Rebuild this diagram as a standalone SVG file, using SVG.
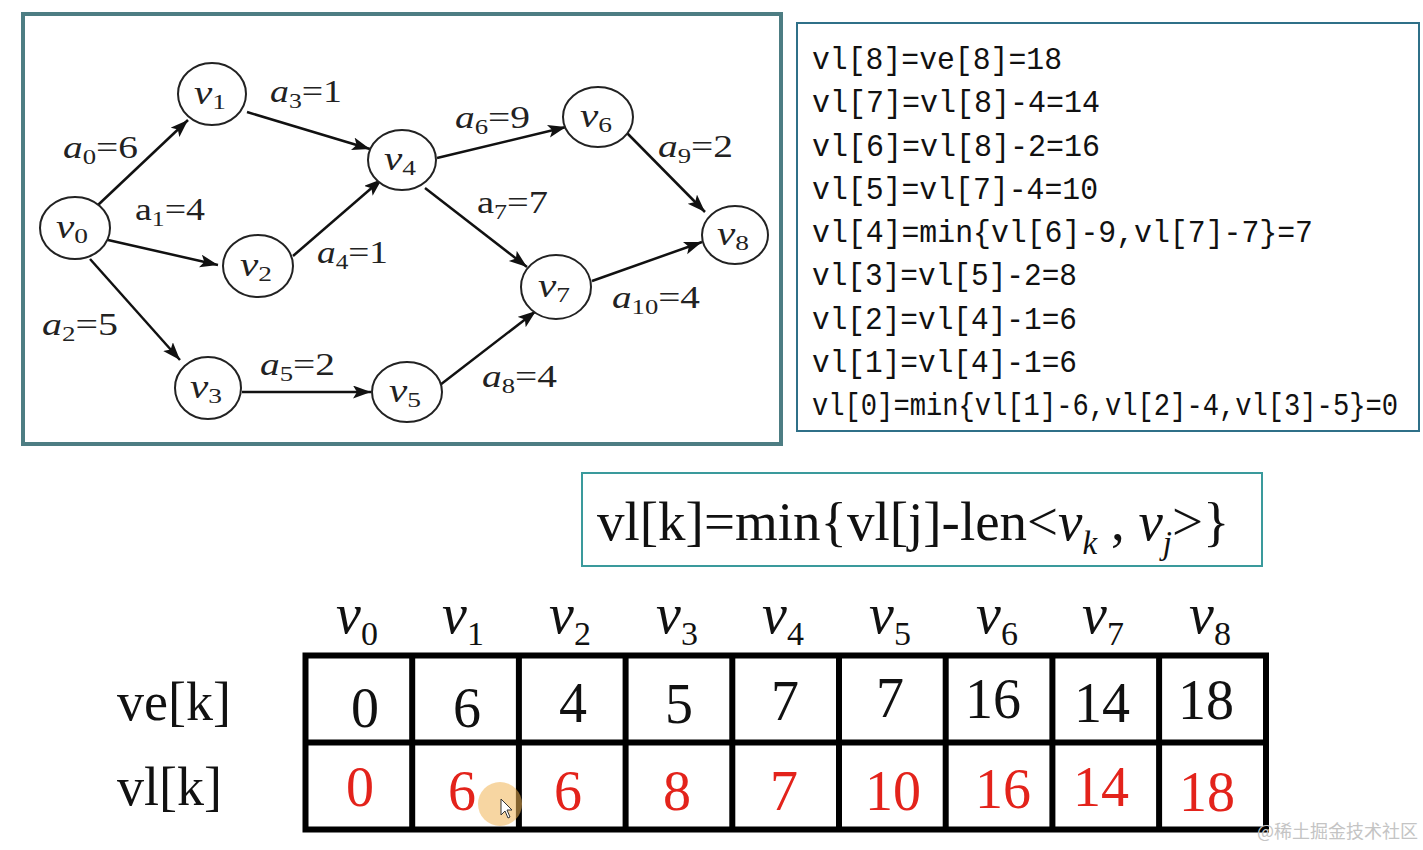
<svg xmlns="http://www.w3.org/2000/svg" width="1423" height="850" viewBox="0 0 1423 850">
<defs>
<style>
.node ellipse{fill:#fff;stroke:#222;stroke-width:2}
.nl{font-family:"Liberation Serif",serif;font-size:33px;fill:#222}
.el{font-family:"Liberation Serif",serif;font-size:31px;fill:#222}
.it{font-style:italic}
.edge{stroke:#111;stroke-width:2.5;fill:none;marker-end:url(#ah)}
.mono{font-family:"Liberation Mono",monospace;font-size:32px;fill:#111}
.ser{font-family:"Liberation Serif",serif;fill:#111}
.grid{stroke:#000;stroke-width:6;fill:none}
.red{fill:#e3231b}
</style>
<marker id="ah" markerUnits="userSpaceOnUse" markerWidth="20" markerHeight="14" refX="18" refY="6.5" orient="auto">
<path d="M0,0 L18,6.5 L0,13 L4,6.5 z" fill="#111"/>
</marker>
</defs>
<rect width="1423" height="850" fill="#fff"/>

<!-- left graph panel -->
<rect x="23" y="14" width="758" height="430" fill="#fff" stroke="#4d7d83" stroke-width="4"/>

<g id="connectors">
<line class="edge" x1="98" y1="205" x2="188" y2="120"/>
<line class="edge" x1="108" y1="240" x2="218" y2="265"/>
<line class="edge" x1="90" y1="259" x2="180" y2="360"/>
<line class="edge" x1="247" y1="112" x2="370" y2="149"/>
<line class="edge" x1="293" y1="256" x2="382" y2="179"/>
<line class="edge" x1="242" y1="392" x2="371" y2="392"/>
<line class="edge" x1="437" y1="158" x2="566" y2="127"/>
<line class="edge" x1="425" y1="188" x2="527" y2="267"/>
<line class="edge" x1="440" y1="385" x2="536" y2="311"/>
<line class="edge" x1="627" y1="133" x2="705" y2="212"/>
<line class="edge" x1="592" y1="281" x2="702" y2="242"/>
</g>

<g id="edge-labels" class="el">
<text x="63" y="158" textLength="75" lengthAdjust="spacingAndGlyphs"><tspan class="it">a</tspan><tspan font-size="21" dy="6">0</tspan><tspan dy="-6">=6</tspan></text>
<text x="135" y="220" textLength="70" lengthAdjust="spacingAndGlyphs"><tspan>a</tspan><tspan font-size="21" dy="6">1</tspan><tspan dy="-6">=4</tspan></text>
<text x="42" y="335" textLength="76" lengthAdjust="spacingAndGlyphs"><tspan class="it">a</tspan><tspan font-size="21" dy="6">2</tspan><tspan dy="-6">=5</tspan></text>
<text x="270" y="102" textLength="72" lengthAdjust="spacingAndGlyphs"><tspan class="it">a</tspan><tspan font-size="21" dy="6">3</tspan><tspan dy="-6">=1</tspan></text>
<text x="317" y="263" textLength="71" lengthAdjust="spacingAndGlyphs"><tspan class="it">a</tspan><tspan font-size="21" dy="6">4</tspan><tspan dy="-6">=1</tspan></text>
<text x="260" y="375" textLength="75" lengthAdjust="spacingAndGlyphs"><tspan class="it">a</tspan><tspan font-size="21" dy="6">5</tspan><tspan dy="-6">=2</tspan></text>
<text x="455" y="128" textLength="75" lengthAdjust="spacingAndGlyphs"><tspan class="it">a</tspan><tspan font-size="21" dy="6">6</tspan><tspan dy="-6">=9</tspan></text>
<text x="477" y="213" textLength="71" lengthAdjust="spacingAndGlyphs"><tspan>a</tspan><tspan font-size="21" dy="6">7</tspan><tspan dy="-6">=7</tspan></text>
<text x="482" y="387" textLength="75" lengthAdjust="spacingAndGlyphs"><tspan class="it">a</tspan><tspan font-size="21" dy="6">8</tspan><tspan dy="-6">=4</tspan></text>
<text x="658" y="157" textLength="75" lengthAdjust="spacingAndGlyphs"><tspan class="it">a</tspan><tspan font-size="21" dy="6">9</tspan><tspan dy="-6">=2</tspan></text>
<text x="612" y="308" textLength="88" lengthAdjust="spacingAndGlyphs"><tspan class="it">a</tspan><tspan font-size="21" dy="6">10</tspan><tspan dy="-6">=4</tspan></text>
</g>

<g id="v0" class="node"><ellipse cx="75" cy="228" rx="35" ry="31"/><text class="nl" x="72" y="238" text-anchor="middle" textLength="32" lengthAdjust="spacingAndGlyphs"><tspan class="it">v</tspan><tspan font-size="22" dy="5">0</tspan></text></g>
<g id="v1" class="node"><ellipse cx="212" cy="94" rx="34" ry="31"/><text class="nl" x="210" y="104" text-anchor="middle" textLength="32" lengthAdjust="spacingAndGlyphs"><tspan class="it">v</tspan><tspan font-size="22" dy="5">1</tspan></text></g>
<g id="v2" class="node"><ellipse cx="258" cy="266" rx="35" ry="31"/><text class="nl" x="256" y="276" text-anchor="middle" textLength="32" lengthAdjust="spacingAndGlyphs"><tspan class="it">v</tspan><tspan font-size="22" dy="5">2</tspan></text></g>
<g id="v3" class="node"><ellipse cx="208" cy="388" rx="33" ry="31"/><text class="nl" x="206" y="398" text-anchor="middle" textLength="32" lengthAdjust="spacingAndGlyphs"><tspan class="it">v</tspan><tspan font-size="22" dy="5">3</tspan></text></g>
<g id="v4" class="node"><ellipse cx="402" cy="160" rx="34" ry="30"/><text class="nl" x="400" y="170" text-anchor="middle" textLength="32" lengthAdjust="spacingAndGlyphs"><tspan class="it">v</tspan><tspan font-size="22" dy="5">4</tspan></text></g>
<g id="v5" class="node"><ellipse cx="407" cy="392" rx="35" ry="30"/><text class="nl" x="405" y="402" text-anchor="middle" textLength="32" lengthAdjust="spacingAndGlyphs"><tspan class="it">v</tspan><tspan font-size="22" dy="5">5</tspan></text></g>
<g id="v6" class="node"><ellipse cx="598" cy="117" rx="35" ry="30"/><text class="nl" x="596" y="127" text-anchor="middle" textLength="32" lengthAdjust="spacingAndGlyphs"><tspan class="it">v</tspan><tspan font-size="22" dy="5">6</tspan></text></g>
<g id="v7" class="node"><ellipse cx="556" cy="287" rx="35" ry="32"/><text class="nl" x="554" y="297" text-anchor="middle" textLength="32" lengthAdjust="spacingAndGlyphs"><tspan class="it">v</tspan><tspan font-size="22" dy="5">7</tspan></text></g>
<g id="v8" class="node"><ellipse cx="735" cy="235" rx="33" ry="29"/><text class="nl" x="733" y="245" text-anchor="middle" textLength="32" lengthAdjust="spacingAndGlyphs"><tspan class="it">v</tspan><tspan font-size="22" dy="5">8</tspan></text></g>

<!-- right text panel -->
<g id="vl-steps">
<rect x="797" y="23" width="622" height="408" fill="#fff" stroke="#2f7088" stroke-width="2"/>
<g class="mono">
<text x="812" y="69" textLength="250" lengthAdjust="spacingAndGlyphs">vl[8]=ve[8]=18</text>
<text x="812" y="112" textLength="288" lengthAdjust="spacingAndGlyphs">vl[7]=vl[8]-4=14</text>
<text x="812" y="156" textLength="288" lengthAdjust="spacingAndGlyphs">vl[6]=vl[8]-2=16</text>
<text x="812" y="199" textLength="286" lengthAdjust="spacingAndGlyphs">vl[5]=vl[7]-4=10</text>
<text x="812" y="242" textLength="501" lengthAdjust="spacingAndGlyphs">vl[4]=min{vl[6]-9,vl[7]-7}=7</text>
<text x="812" y="285" textLength="265" lengthAdjust="spacingAndGlyphs">vl[3]=vl[5]-2=8</text>
<text x="812" y="329" textLength="265" lengthAdjust="spacingAndGlyphs">vl[2]=vl[4]-1=6</text>
<text x="812" y="372" textLength="265" lengthAdjust="spacingAndGlyphs">vl[1]=vl[4]-1=6</text>
<text transform="translate(812,415) scale(0.848,1)" x="0" y="0">vl[0]=min{vl[1]-6,vl[2]-4,vl[3]-5}=0</text>
</g>
</g>

<!-- formula -->
<g id="formula">
<rect x="582" y="473" width="680" height="93" fill="#fff" stroke="#3a9a9c" stroke-width="2"/>
<text class="ser" x="597" y="540" font-size="55">vl[k]=min{vl[j]-len&lt;<tspan class="it">v</tspan><tspan class="it" font-size="33" dy="14">k</tspan><tspan dy="-14"> , </tspan><tspan class="it">v</tspan><tspan class="it" font-size="33" dy="14">j</tspan><tspan dy="-14">&gt;}</tspan></text>
</g>

<!-- table -->
<g id="table">
<g class="ser" font-size="56" text-anchor="middle">
<text x="357" y="633"><tspan class="it">v</tspan><tspan font-size="34" dy="12">0</tspan></text>
<text x="463" y="633"><tspan class="it">v</tspan><tspan font-size="34" dy="12">1</tspan></text>
<text x="570" y="633"><tspan class="it">v</tspan><tspan font-size="34" dy="12">2</tspan></text>
<text x="677" y="633"><tspan class="it">v</tspan><tspan font-size="34" dy="12">3</tspan></text>
<text x="783" y="633"><tspan class="it">v</tspan><tspan font-size="34" dy="12">4</tspan></text>
<text x="890" y="633"><tspan class="it">v</tspan><tspan font-size="34" dy="12">5</tspan></text>
<text x="997" y="633"><tspan class="it">v</tspan><tspan font-size="34" dy="12">6</tspan></text>
<text x="1103" y="633"><tspan class="it">v</tspan><tspan font-size="34" dy="12">7</tspan></text>
<text x="1210" y="633"><tspan class="it">v</tspan><tspan font-size="34" dy="12">8</tspan></text>
</g>
<text class="ser" x="117" y="720" font-size="54">ve[k]</text>
<text class="ser" x="117" y="805" font-size="54">vl[k]</text>
<rect class="grid" x="305.5" y="655.5" width="960.5" height="174"/>
<path class="grid" d="M305.5,742.5H1266 M412.2,655.5V829.5 M518.9,655.5V829.5 M625.6,655.5V829.5 M732.3,655.5V829.5 M839,655.5V829.5 M945.7,655.5V829.5 M1052.4,655.5V829.5 M1159.1,655.5V829.5"/>
<g class="ser" font-size="56" text-anchor="middle">
<text x="365" y="727">0</text>
<text x="467" y="727">6</text>
<text x="573" y="722">4</text>
<text x="679" y="723">5</text>
<text x="785" y="720">7</text>
<text x="890" y="717">7</text>
<text x="993" y="718">16</text>
<text x="1102" y="722">14</text>
<text x="1206" y="719">18</text>
</g>
<g class="ser red" font-size="56" text-anchor="middle">
<text x="360" y="806">0</text>
<text x="462" y="810">6</text>
<text x="568" y="810">6</text>
<text x="677" y="810">8</text>
<text x="784" y="810">7</text>
<text x="893" y="810">10</text>
<text x="1003" y="808">16</text>
<text x="1101" y="806">14</text>
<text x="1207" y="811">18</text>
</g>
</g>

<!-- cursor highlight -->
<circle cx="500" cy="804" r="22" fill="#f0b556" opacity="0.55"/>
<path d="M501,799 L501,815 L505,811 L508,818 L510,817 L507,810 L512,810 Z" fill="#fff" stroke="#333" stroke-width="1"/>

<text x="1418" y="838" text-anchor="end" font-family="'Noto Sans CJK SC',sans-serif" font-size="18" fill="#c4c4c4">@稀土掘金技术社区</text>
</svg>
